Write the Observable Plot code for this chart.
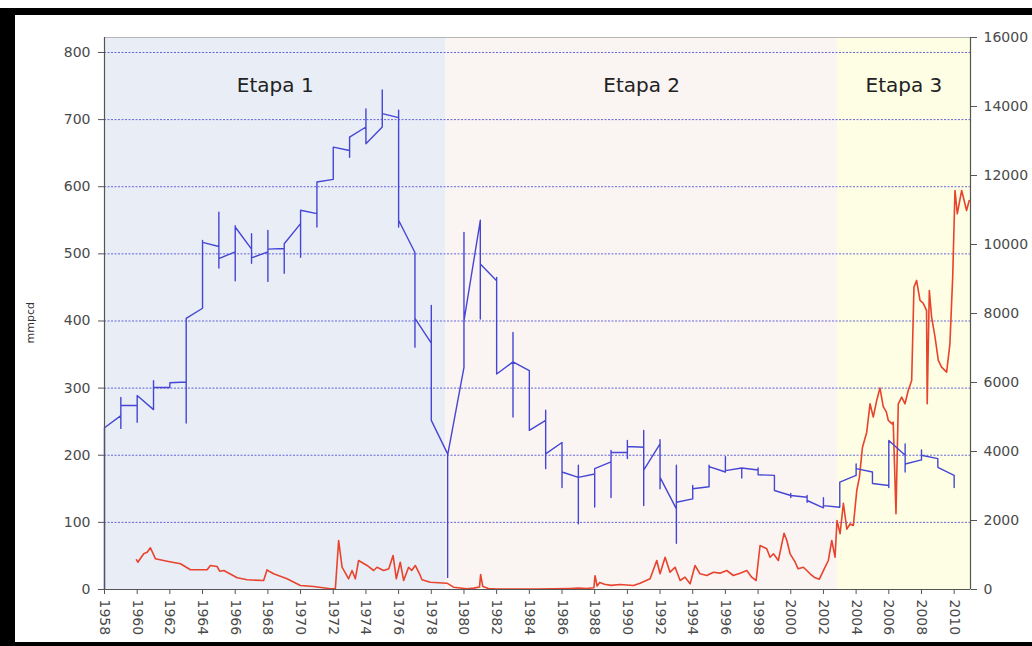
<!DOCTYPE html>
<html><head><meta charset="utf-8">
<script src="https://cdn.jsdelivr.net/npm/d3@7"></script>
<script src="https://cdn.jsdelivr.net/npm/@observablehq/plot@0.6"></script>
<style>
html,body{margin:0;padding:0;background:#fff;}
#wrap{position:relative;width:1032px;height:646px;overflow:hidden;background:#fff;}
#frame{position:absolute;left:0;top:8px;width:1032px;height:638px;box-sizing:border-box;border-top:7px solid #000;border-left:15px solid #000;border-bottom:4px solid #000;}
#chart{position:absolute;left:0;top:0;}
</style></head><body>
<div id="wrap"><div id="frame"></div><div id="chart"></div></div>
<script>
// ---- Stages ----
const stageNames = ["Etapa 1", "Etapa 2", "Etapa 3"];
const stageStart = [1958, 1978.9, 2002.85];
const stageEnd = [1978.9, 2002.85, 2011];
const stageFill = ["#e9eef6", "#faf4f3", "#fefee5"];

// ---- Axis ticks ----
const leftTicks = [0, 100, 200, 300, 400, 500, 600, 700, 800];
const rightTicks = [0, 2000, 4000, 6000, 8000, 10000, 12000, 14000, 16000];
const xTicks = d3.range(1958, 2011, 2);
const leftTop = 822.3;   // left-axis value at top of plot frame
const rightTop = 16000;  // right-axis value at top of plot frame

// ---- Blue series (left axis, mmpcd): per year: entry, high, low, exit ----
const blueYears = d3.range(1958, 2011);
const blueIn  = [0,259,274,268,301,309,419,511,503,507,503,508,545,560,611,654,689,689,703,502,367,202,331,550,460,339,326,252,219,167,172,190,204,212,217,120,135,153,175,181,178,170,140,137.5,121.7,122.6,170,175,155,200,193,195,170];
const blueHi  = [241,286,289,311,308,404,520,562,542,530,535,515,565,607,659,674,716,744,714,502,423,202,532,550,465,383,326,267,219,185,180,207,222,237,223,185,155,185,198,181,181,170,143,140,136.6,160,187,175,222,217,208,195,170];
const blueLo  = [0,240,249,268,301,248,419,479,460,486,459,471,495,540,611,644,664,689,540,361,252,18,331,403,321,257,237,180,152,98,123,137,195,125,150,69,135,153,175,166,171,147.5,137,130,121.7,122.6,170,158,152,175,193,182,152];
const blueOut = [241,274,289,301,308,404,517,493,540,494,507,515,565,607,659,674,664,709,550,404,252,200,400,485,321,339,237,202,175,167,180,204,213,178,167,130,150,183,177,181,171,147.5,140,132.6,125,160,180,158,222,187,200,182,152];

// ---- Red series (right axis) ----
const redYears = [1959.96,1960.04,1960.40,1960.61,1960.81,1961.12,1961.83,1962.65,1963.26,1964.28,1964.48,1964.89,1965.05,1965.30,1966.12,1966.73,1967.74,1967.95,1968.10,1968.35,1969.17,1969.99,1970.80,1971.82,1972.13,1972.33,1972.54,1972.94,1973.15,1973.35,1973.55,1974.07,1974.47,1974.68,1975.08,1975.40,1975.66,1975.86,1976.10,1976.31,1976.61,1976.80,1977.02,1977.28,1977.43,1977.94,1978.96,1979.36,1980.18,1980.60,1980.95,1981.02,1981.15,1981.5,1982.0,1983.0,1984.5,1985.5,1986.5,1987.0,1987.5,1987.95,1988.02,1988.15,1988.3,1988.6,1989.0,1989.56,1990.37,1990.78,1991.39,1991.80,1992.0,1992.31,1992.61,1992.92,1993.23,1993.53,1993.84,1994.14,1994.45,1994.86,1995.27,1995.67,1996.08,1996.49,1996.90,1997.31,1997.61,1997.88,1998.12,1998.53,1998.73,1998.94,1999.24,1999.59,1999.76,1999.96,2000.27,2000.45,2000.77,2000.98,2001.18,2001.45,2001.75,2002.10,2002.30,2002.51,2002.71,2002.83,2003.02,2003.22,2003.43,2003.63,2003.83,2004.04,2004.20,2004.39,2004.65,2004.85,2005.05,2005.26,2005.46,2005.66,2005.85,2005.97,2006.20,2006.27,2006.44,2006.58,2006.79,2006.99,2007.19,2007.40,2007.54,2007.70,2007.91,2008.10,2008.31,2008.35,2008.48,2008.62,2008.83,2009.03,2009.23,2009.54,2009.74,2009.91,2010.05,2010.19,2010.46,2010.76,2010.92];
const redVals = [861,791,1035,1081,1209,890,820,745,571,571,696,667,531,551,339,281,261,571,520,455,310,116,87,20,30,1420,646,310,551,310,841,696,551,646,551,600,986,310,791,261,646,551,696,455,281,212,183,67,20,40,70,430,90,30,15,10,10,20,30,40,30,50,400,100,200,150,120,145,116,183,310,841,455,936,502,646,261,357,165,696,455,406,502,474,551,406,474,551,357,261,1276,1179,936,1035,841,1632,1420,1035,791,600,646,551,455,350,300,646,841,1420,936,2000,1615,2500,1750,1900,1855,2870,3250,4125,4560,5383,5000,5480,5840,5300,5150,4900,4800,4850,2195,5383,5575,5383,5769,6059,8764,8958,8378,8300,8088,5383,8668,7894,7314,6639,6445,6300,7122,9054,11567,10891,11567,10987,11277];

const K = leftTop / rightTop;
const stages = stageNames.map((n, i) => ({name: n, start: stageStart[i], end: stageEnd[i], fill: stageFill[i]}));
const blue = [];
blueYears.forEach((yr, i) => {
  blue.push({x: yr, y: blueIn[i]}, {x: yr, y: blueHi[i]}, {x: yr, y: blueLo[i]}, {x: yr, y: blueOut[i]});
});
const red = redYears.map((yr, i) => ({x: yr, y: redVals[i] * K}));

const chart = Plot.plot({
  width: 1032, height: 646,
  marginLeft: 104, marginRight: 62, marginTop: 37, marginBottom: 57,
  style: {fontFamily: "'DejaVu Sans', sans-serif", fontSize: "13px", background: "transparent", color: "#4a4a4a"},
  x: {domain: [1958, 2011]},
  y: {domain: [0, leftTop]},
  color: {type: "identity"},
  marks: [
    Plot.rect(stages, {x1: "start", x2: "end", fill: "fill"}),
    Plot.ruleY(leftTicks.filter(d => d > 0), {stroke: "#4b4bd6", strokeDasharray: "2,1.5", strokeWidth: 1, strokeOpacity: 0.85}),
    Plot.frame({stroke: "#b5b5b5"}),
    Plot.line(red, {x: "x", y: "y", stroke: "#e8432c", strokeWidth: 1.6}),
    Plot.line(blue, {x: "x", y: "y", stroke: "#4646d4", strokeWidth: 1.4}),
    Plot.axisY(leftTicks, {anchor: "left", tickSize: 6, tickPadding: 8, label: null, fontSize: 14, stroke: "#555", fill: "#4a4a4a"}),
    Plot.axisY(rightTicks.map(v => v * K), {anchor: "right", tickSize: 6, tickPadding: 7, label: null, fontSize: 14, stroke: "#555", fill: "#4a4a4a", tickFormat: d => String(Math.round(d / K))}),
    Plot.axisX(xTicks, {anchor: "bottom", tickRotate: 90, tickSize: 5, tickPadding: 5, label: null, fontSize: 14, stroke: "#555", fill: "#4a4a4a", tickFormat: d => String(d)}),
    Plot.ruleX([1958, 2011], {stroke: "#555", strokeWidth: 1.2}),
    Plot.ruleY([0], {stroke: "#555", strokeWidth: 1.2}),
    Plot.text(["mmpcd"], {frameAnchor: "left", dx: -74, dy: 30, rotate: -90, fontSize: 11, fill: "#333"}),
    Plot.text(stages, {x: d => (d.start + d.end) / 2, frameAnchor: "top", dy: 40, text: "name", fontSize: 20, fill: "#222"})
  ]
});
document.getElementById("chart").appendChild(chart);
</script></body></html>
